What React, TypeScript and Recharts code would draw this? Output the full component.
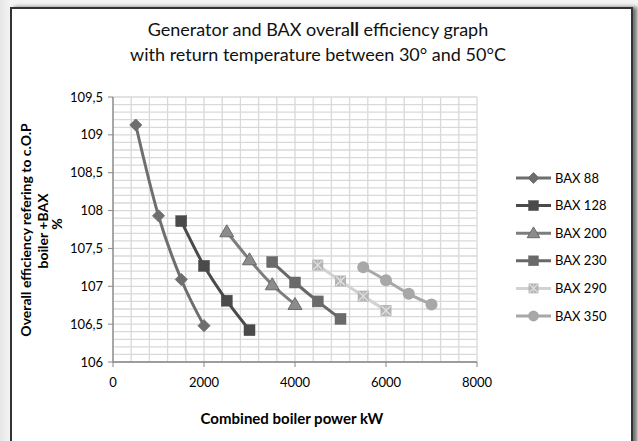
import React from "react";
import { LineChart, Line, XAxis, YAxis, CartesianGrid } from "recharts";

const xTicks = [0, 2000, 4000, 6000, 8000];
const yTicks = [106, 106.5, 107, 107.5, 108, 108.5, 109, 109.5];
const xDomain: [number, number] = [0, 8000];
const yDomain: [number, number] = [106, 109.5];

const bax88 = [
  { x: 500, y: 109.13 },
  { x: 1000, y: 107.93 },
  { x: 1500, y: 107.09 },
  { x: 2000, y: 106.48 },
];
const bax128 = [
  { x: 1500, y: 107.86 },
  { x: 2000, y: 107.27 },
  { x: 2500, y: 106.81 },
  { x: 3000, y: 106.42 },
];
const bax200 = [
  { x: 2500, y: 107.72 },
  { x: 3000, y: 107.35 },
  { x: 3500, y: 107.02 },
  { x: 4000, y: 106.76 },
];
const bax230 = [
  { x: 3500, y: 107.32 },
  { x: 4000, y: 107.05 },
  { x: 4500, y: 106.8 },
  { x: 5000, y: 106.57 },
];
const bax290 = [
  { x: 4500, y: 107.28 },
  { x: 5000, y: 107.07 },
  { x: 5500, y: 106.87 },
  { x: 6000, y: 106.68 },
];
const bax350 = [
  { x: 5500, y: 107.25 },
  { x: 6000, y: 107.08 },
  { x: 6500, y: 106.9 },
  { x: 7000, y: 106.76 },
];

type Shape = "diamond" | "square" | "triangle" | "xsquare" | "circle";

const series: { name: string; data: { x: number; y: number }[]; color: string; marker: string; shape: Shape }[] = [
  { name: "BAX 88", data: bax88, color: "#6e6e6e", marker: "#6e6e6e", shape: "diamond" },
  { name: "BAX 128", data: bax128, color: "#4a4a4a", marker: "#4a4a4a", shape: "square" },
  { name: "BAX 200", data: bax200, color: "#7d7d7d", marker: "#8c8c8c", shape: "triangle" },
  { name: "BAX 230", data: bax230, color: "#686868", marker: "#6a6a6a", shape: "square" },
  { name: "BAX 290", data: bax290, color: "#d2d2d2", marker: "#b4b4b4", shape: "xsquare" },
  { name: "BAX 350", data: bax350, color: "#a8a8a8", marker: "#a8a8a8", shape: "circle" },
];

const gridX = Array.from({ length: 21 }, (_, i) => i * 400);
const gridY = Array.from({ length: 36 }, (_, i) => Math.round((106 + i * 0.1) * 10) / 10);

function vGrid(p: any): number[] {
  const sc = p?.xAxis?.scale;
  if (typeof sc === "function") return gridX.map((v) => sc(v));
  if (sc && typeof sc.map === "function") return gridX.map((v) => sc.map(v));
  const o = p.offset;
  return gridX.map((v) => o.left + ((v - xDomain[0]) / (xDomain[1] - xDomain[0])) * o.width);
}
function hGrid(p: any): number[] {
  const sc = p?.yAxis?.scale;
  if (typeof sc === "function") return gridY.map((v) => sc(v));
  if (sc && typeof sc.map === "function") return gridY.map((v) => sc.map(v));
  const o = p.offset;
  return gridY.map((v) => o.top + ((yDomain[1] - v) / (yDomain[1] - yDomain[0])) * o.height);
}

function Marker({ shape, cx, cy, color, stroke, s = 1 }: { shape: Shape; cx: number; cy: number; color: string; stroke: string; s?: number }) {
  switch (shape) {
    case "diamond":
      return (
        <polygon
          points={`${cx},${cy - 6 * s} ${cx + 6 * s},${cy} ${cx},${cy + 6 * s} ${cx - 6 * s},${cy}`}
          fill={color}
          stroke={color}
        />
      );
    case "square":
      return <rect x={cx - 5.5 * s} y={cy - 5.5 * s} width={11 * s} height={11 * s} fill={color} stroke={color} strokeWidth={0.5} />;
    case "triangle":
      return (
        <polygon
          points={`${cx},${cy - 7 * s} ${cx + 7 * s},${cy + 5 * s} ${cx - 7 * s},${cy + 5 * s}`}
          fill={color}
          stroke={stroke}
          strokeWidth={1}
        />
      );
    case "xsquare":
      return (
        <g>
          <rect x={cx - 5.5 * s} y={cy - 5.5 * s} width={11 * s} height={11 * s} fill={color} />
          <line x1={cx - 4.5 * s} y1={cy - 4.5 * s} x2={cx + 4.5 * s} y2={cy + 4.5 * s} stroke="#e4e4e4" strokeWidth={1.2} />
          <line x1={cx + 4.5 * s} y1={cy - 4.5 * s} x2={cx - 4.5 * s} y2={cy + 4.5 * s} stroke="#e4e4e4" strokeWidth={1.2} />
          <line x1={cx} y1={cy - 5 * s} x2={cx} y2={cy + 5 * s} stroke="#d8d8d8" strokeWidth={0.8} />
        </g>
      );
    case "circle":
    default:
      return <circle cx={cx} cy={cy} r={6 * s} fill={color} />;
  }
}

const tickStyle = { fontFamily: "Lato, 'Open Sans', sans-serif", fontSize: 13, fill: "#000" };

export default function App() {
  return (
    <div
      style={{
        position: "absolute",
        left: 0,
        top: 0,
        width: 638,
        height: 441,
        overflow: "hidden",
        background: "linear-gradient(90deg, #e6e6e6 0px, #f4f4f4 10px)",
      }}
    >
      <div
        style={{
          position: "absolute",
          left: 10,
          top: 7,
          width: 619,
          height: 460,
          border: "2px solid #333",
          background: "#fff",
          boxShadow: "4px 0 4px rgba(0,0,0,0.55)",
        }}
      />
      <div style={{ position: "absolute", left: 0, top: 0 }}>
        <LineChart width={638} height={441} margin={{ top: 97, right: 161, bottom: 0, left: 0 }}>
          <CartesianGrid stroke="#d9d9d9" strokeWidth={1.3} verticalCoordinatesGenerator={vGrid} horizontalCoordinatesGenerator={hGrid} />
          <XAxis
            type="number"
            dataKey="x"
            domain={xDomain}
            ticks={xTicks}
            height={79}
            tick={tickStyle}
            tickLine={{ stroke: "#868686" }}
            axisLine={{ stroke: "#868686", strokeWidth: 1.3 }}
            tickSize={5}
            tickMargin={11}
            allowDataOverflow
          />
          <YAxis
            type="number"
            dataKey="y"
            domain={yDomain}
            ticks={yTicks}
            width={113}
            tick={tickStyle}
            tickLine={{ stroke: "#868686" }}
            axisLine={{ stroke: "#868686", strokeWidth: 1.3 }}
            tickSize={5}
            tickMargin={5}
            tickFormatter={(v: number) => String(v).replace(".", ",")}
            allowDataOverflow
          />
          {series.map((s) => (
            <Line
              key={s.name}
              data={s.data}
              dataKey="y"
              name={s.name}
              type="monotone"
              stroke={s.color}
              strokeWidth={3}
              isAnimationActive={false}
              dot={(p: any) => (
                <Marker key={`${s.name}-${p.index}`} shape={s.shape} cx={p.cx} cy={p.cy} color={s.marker} stroke="#6a6a6a" />
              )}
              activeDot={false}
            />
          ))}
        </LineChart>
      </div>
      <svg width={638} height={441} style={{ position: "absolute", left: 0, top: 0, pointerEvents: "none" }}>
        <g fontFamily="Lato, 'Open Sans', sans-serif" fontSize={18} fill="#111" textAnchor="middle">
          <text x={318} y={36}>
            Generator and BAX overa<tspan fontWeight="bold">ll</tspan> efficiency graph
          </text>
          <text x={318} y={61}>with return temperature between 30° and 50°C</text>
        </g>
        <g fontFamily="Lato, 'Open Sans', sans-serif" fontSize={14} fontWeight="bold" fill="#000" textAnchor="middle">
          <text transform="translate(31,230) rotate(-90)">Overall efficiency refering to c.O.P</text>
          <text transform="translate(48,231) rotate(-90)">boiler +BAX</text>
          <text transform="translate(62,224) rotate(-90)">%</text>
          <text x={292} y={424} fontSize={15}>Combined boiler power kW</text>
        </g>
        <g fontFamily="Lato, 'Open Sans', sans-serif" fontSize={13} fill="#000">
          {series.map((s, i) => {
            const y = 178 + i * 27.6;
            return (
              <g key={s.name}>
                <line x1={516} x2={551} y1={y} y2={y} stroke={s.color} strokeWidth={3} />
                <Marker shape={s.shape} cx={533.5} cy={y} color={s.marker} stroke="#6a6a6a" s={0.9} />
                <text x={555} y={y + 4.5}>{s.name}</text>
              </g>
            );
          })}
        </g>
      </svg>
    </div>
  );
}
